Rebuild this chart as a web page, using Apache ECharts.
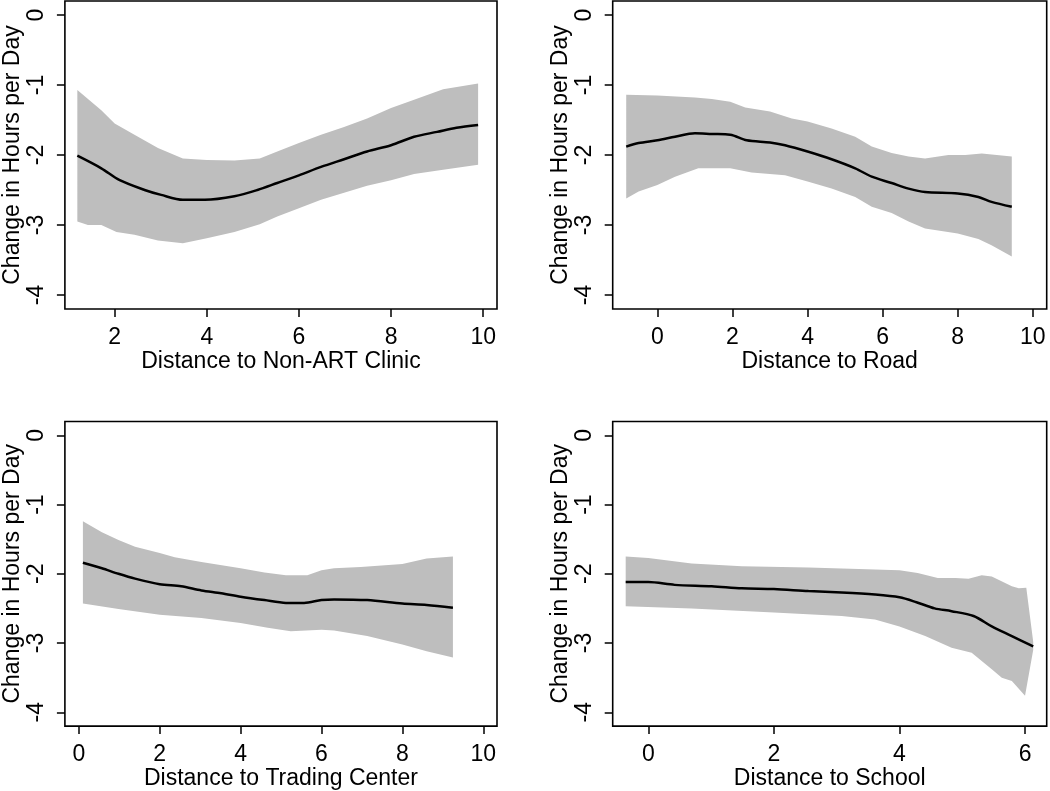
<!DOCTYPE html>
<html>
<head>
<meta charset="utf-8">
<script src="https://cdn.jsdelivr.net/npm/echarts@6/dist/echarts.min.js"></script>
<style>
html,body{margin:0;padding:0;background:#fff;}
#chart{width:1050px;height:791px;}
</style>
</head>
<body>
<div id="chart"></div>
<script>
// ---------- Data ----------
const yTicks = [0, -1, -2, -3, -4];
const yTitle = 'Change in Hours per Day';

// Panel 1: Distance to Non-ART Clinic
const clinicTitle = 'Distance to Non-ART Clinic';
const clinicTicks = [2, 4, 6, 8, 10];
const clinicFit = [[1.19,-2.01],[1.71,-2.19],[2.11,-2.36],[2.65,-2.5],[3.01,-2.57],[3.48,-2.64],[3.96,-2.64],[4.6,-2.59],[5.1,-2.5],[5.53,-2.4],[6.0,-2.29],[6.48,-2.17],[6.98,-2.06],[7.48,-1.95],[8.0,-1.86],[8.5,-1.74],[9.0,-1.67],[9.42,-1.61],[9.89,-1.57]];
const clinicUpper = [[1.19,-1.07],[1.71,-1.36],[2.0,-1.55],[2.43,-1.71],[2.94,-1.9],[3.48,-2.05],[4.0,-2.07],[4.6,-2.08],[5.15,-2.05],[5.53,-1.95],[6.0,-1.83],[6.48,-1.71],[6.98,-1.6],[7.48,-1.48],[8.0,-1.33],[8.5,-1.21],[9.13,-1.06],[9.89,-0.98]];
const clinicLower = [[1.19,-2.95],[1.42,-3.0],[1.71,-3.0],[2.04,-3.1],[2.43,-3.14],[2.94,-3.22],[3.48,-3.26],[4.0,-3.19],[4.6,-3.1],[5.15,-2.99],[5.53,-2.88],[6.0,-2.76],[6.48,-2.64],[6.98,-2.54],[7.48,-2.44],[8.0,-2.36],[8.5,-2.27],[9.13,-2.21],[9.89,-2.14]];

// Panel 2: Distance to Road
const roadTitle = 'Distance to Road';
const roadTicks = [0, 2, 4, 6, 8, 10];
const roadFit = [[-0.83,-1.88],[-0.5,-1.83],[0.0,-1.79],[0.47,-1.74],[1.0,-1.69],[1.45,-1.7],[1.94,-1.71],[2.38,-1.79],[3.0,-1.82],[3.4,-1.86],[4.0,-1.95],[4.64,-2.06],[5.27,-2.19],[5.71,-2.31],[6.24,-2.4],[6.69,-2.48],[7.13,-2.53],[8.0,-2.55],[8.55,-2.6],[8.9,-2.67],[9.44,-2.74]];
const roadUpper = [[-0.83,-1.14],[0.0,-1.15],[1.0,-1.18],[1.45,-1.2],[1.94,-1.24],[2.34,-1.32],[3.0,-1.38],[3.58,-1.48],[4.0,-1.52],[4.64,-1.62],[5.27,-1.74],[5.71,-1.88],[6.24,-1.97],[6.69,-2.02],[7.13,-2.05],[7.75,-2.0],[8.2,-2.0],[8.64,-1.98],[9.44,-2.02]];
const roadLower = [[-0.83,-2.62],[-0.5,-2.52],[0.0,-2.43],[0.47,-2.31],[1.09,-2.19],[1.94,-2.19],[2.51,-2.25],[3.4,-2.29],[4.0,-2.38],[4.64,-2.48],[5.27,-2.6],[5.71,-2.74],[6.24,-2.83],[6.69,-2.95],[7.13,-3.05],[8.0,-3.12],[8.55,-3.2],[8.9,-3.29],[9.44,-3.45]];

// Panel 3: Distance to Trading Center
const tradeTitle = 'Distance to Trading Center';
const tradeTicks = [0, 2, 4, 6, 8, 10];
const tradeFit = [[0.1,-1.84],[0.57,-1.92],[0.98,-2.0],[1.39,-2.07],[2.0,-2.15],[2.53,-2.18],[3.03,-2.24],[3.52,-2.28],[4.0,-2.33],[4.59,-2.38],[5.12,-2.42],[5.57,-2.42],[6.0,-2.38],[6.31,-2.37],[7.13,-2.38],[8.0,-2.43],[8.6,-2.45],[9.25,-2.49]];
const tradeUpper = [[0.1,-1.24],[0.57,-1.4],[0.98,-1.51],[1.39,-1.61],[2.0,-1.7],[2.37,-1.76],[3.03,-1.83],[4.0,-1.92],[4.59,-1.98],[5.12,-2.02],[5.65,-2.02],[6.0,-1.95],[6.31,-1.92],[6.97,-1.9],[8.0,-1.86],[8.6,-1.78],[9.25,-1.75]];
const tradeLower = [[0.1,-2.43],[0.98,-2.51],[2.0,-2.59],[3.03,-2.64],[4.0,-2.71],[4.67,-2.78],[5.24,-2.83],[6.0,-2.81],[6.31,-2.82],[7.13,-2.9],[8.0,-3.02],[8.6,-3.12],[9.25,-3.21]];

// Panel 4: Distance to School
const schoolTitle = 'Distance to School';
const schoolTicks = [0, 2, 4, 6];
const schoolFit = [[-0.36,-2.12],[0.0,-2.12],[0.42,-2.16],[1.01,-2.18],[1.49,-2.21],[2.0,-2.22],[2.55,-2.25],[3.08,-2.27],[3.61,-2.3],[4.0,-2.34],[4.27,-2.41],[4.56,-2.5],[4.83,-2.54],[5.18,-2.61],[5.47,-2.76],[5.79,-2.9],[6.13,-3.05]];
const schoolUpper = [[-0.36,-1.75],[0.0,-1.77],[0.69,-1.85],[1.49,-1.89],[2.55,-1.91],[3.35,-1.93],[4.0,-1.95],[4.29,-1.99],[4.61,-2.06],[4.89,-2.06],[5.1,-2.07],[5.31,-2.02],[5.47,-2.04],[5.79,-2.18],[5.9,-2.21],[6.02,-2.2],[6.13,-2.98]];
const schoolLower = [[-0.36,-2.47],[0.69,-2.5],[2.0,-2.56],[3.08,-2.61],[3.61,-2.66],[4.0,-2.76],[4.41,-2.9],[4.83,-3.07],[5.15,-3.14],[5.47,-3.38],[5.63,-3.5],[5.79,-3.55],[6.0,-3.76],[6.13,-3.1]];

// ---------- Chart ----------
const FONT = 'Liberation Sans, Arial, sans-serif';
const FS = 23;

const panels = [
  {title: clinicTitle, ticks: clinicTicks, fit: clinicFit, up: clinicUpper, lo: clinicLower, xmin: 0.92, xmax: 10.30, left: 63, top: 1},
  {title: roadTitle, ticks: roadTicks, fit: roadFit, up: roadUpper, lo: roadLower, xmin: -1.19, xmax: 10.37, left: 612.7, top: 1},
  {title: tradeTitle, ticks: tradeTicks, fit: tradeFit, up: tradeUpper, lo: tradeLower, xmin: -0.345, xmax: 10.34, left: 63, top: 421.5},
  {title: schoolTitle, ticks: schoolTicks, fit: schoolFit, up: schoolUpper, lo: schoolLower, xmin: -0.567, xmax: 6.345, left: 612.7, top: 421.5}
];

const grids = [], xAxes = [], yAxes = [], series = [];
panels.forEach((p, i) => {
  grids.push({left: p.left, top: p.top, width: 434, height: 308, show: true, borderColor: '#000', borderWidth: 1.6, backgroundColor: 'transparent'});
  xAxes.push({
    type: 'value', gridIndex: i, min: p.xmin, max: p.xmax, position: 'bottom',
    name: p.title, nameLocation: 'middle', nameGap: 36,
    nameTextStyle: {fontFamily: FONT, fontSize: FS, color: '#000'},
    axisLine: {show: false, onZero: false},
    axisTick: {show: true, length: 8, lineStyle: {color: '#000', width: 1.5}, customValues: p.ticks},
    axisLabel: {fontFamily: FONT, fontSize: FS, color: '#000', margin: 17, customValues: p.ticks},
    splitLine: {show: false}
  });
  yAxes.push({
    type: 'value', gridIndex: i, min: -4.2, max: 0.2, position: 'left',
    name: yTitle, nameLocation: 'middle', nameGap: 40, nameRotate: 90,
    nameTextStyle: {fontFamily: FONT, fontSize: FS, color: '#000'},
    axisLine: {show: false, onZero: false},
    axisTick: {show: true, length: 8, lineStyle: {color: '#000', width: 1.5}, customValues: yTicks},
    axisLabel: {fontFamily: FONT, fontSize: FS, color: '#000', margin: 17, rotate: 90, customValues: yTicks},
    splitLine: {show: false}
  });
  const up = p.up, lo = p.lo;
  series.push({
    type: 'custom', xAxisIndex: i, yAxisIndex: i, clip: true, silent: true, z: 1,
    data: [up[0]],
    renderItem: function (params, api) {
      const pts = up.map(d => api.coord(d)).concat(lo.slice().reverse().map(d => api.coord(d)));
      return {type: 'polygon', shape: {points: pts}, style: {fill: '#bebebe', stroke: null}};
    }
  });
  series.push({
    type: 'line', xAxisIndex: i, yAxisIndex: i, data: p.fit, showSymbol: false, smooth: 0.3,
    lineStyle: {color: '#000', width: 2.5}, z: 3, silent: true
  });
});

const chart = echarts.init(document.getElementById('chart'), null, {renderer: 'canvas'});
chart.setOption({
  animation: false,
  backgroundColor: '#fff',
  grid: grids, xAxis: xAxes, yAxis: yAxes, series: series
});
</script>
</body>
</html>
